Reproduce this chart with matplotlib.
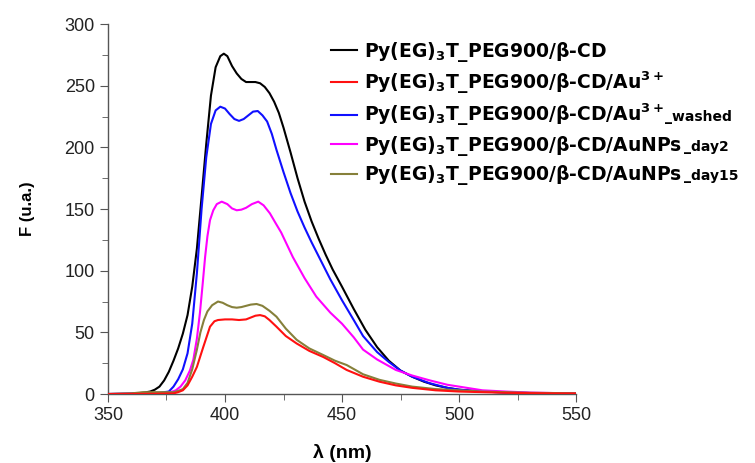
import matplotlib
matplotlib.use("Agg")
import matplotlib.pyplot as plt
from matplotlib.ticker import MultipleLocator
from matplotlib.transforms import IdentityTransform

plt.rcParams['font.family'] = ['Liberation Sans', 'DejaVu Sans']
plt.rcParams['mathtext.fontset'] = 'custom'
plt.rcParams['mathtext.bf'] = 'DejaVu Sans:bold'
plt.rcParams['mathtext.rm'] = 'DejaVu Sans:bold'
plt.rcParams['mathtext.default'] = 'bf'

# --- data ---
wl_black = [350, 360, 365, 368, 370, 372, 374, 376, 378, 380, 382, 384, 386, 388, 390, 392, 394, 396,
            398, 399.5, 401, 403, 405, 407, 409, 411, 413, 415, 417, 419, 421, 423, 425, 428, 431, 434,
            437, 440, 443, 446, 450, 455, 460, 465, 470, 475, 480, 485, 490, 495, 500, 510, 520, 530, 540, 550]
f_black = [0, 0.3, 1, 2, 3.5, 6, 11, 18, 27, 37, 49, 64, 87, 118, 160, 203, 242, 265,
           274, 276, 274, 266, 260, 255.5, 253, 253, 253, 252, 249, 244, 237, 228, 216, 196, 175, 156,
           140, 126, 113, 101, 87, 69, 52, 38, 27, 19, 14, 10, 7, 5, 3.5, 2, 1.2, 0.8, 0.5, 0.3]

wl_red = [350, 370, 378, 380, 382, 384, 386, 388, 390.7, 393.6, 395.5, 397, 400, 403, 406, 409, 411, 413, 415,
          417, 419, 422, 426, 430.6, 436, 442, 447, 452, 459, 466, 473, 480, 490, 500, 510, 520, 530, 540, 550]
f_red = [0, 0.2, 0.5, 1.5, 3, 7, 14, 22, 38, 54.6, 59, 60, 60.5, 60.5, 60, 60.5, 62, 63.5, 64,
         63, 60, 54.6, 47, 41, 35, 30, 25, 19.5, 14, 10, 7, 5, 3, 2, 1.5, 1, 0.7, 0.5, 0.4]

wl_blue = [350, 365, 372, 376, 378, 380, 382, 384, 386, 388, 390, 392, 394, 396, 398, 400, 402, 404, 406,
           408, 410, 412, 414, 416, 418, 420, 422, 425, 428, 431, 434, 437, 441, 445, 450, 455, 459,
           465, 470, 475, 480, 487, 495, 500, 510, 520, 530, 540, 550]
f_blue = [0, 0.3, 1, 2, 6, 12, 20, 33, 57, 98, 150, 192, 219, 230, 233, 231.5, 227, 223, 221.5,
          223, 226, 229, 229.5, 226, 221, 211, 198, 180, 163, 148, 135, 123, 108, 93, 76, 60, 47,
          34, 26, 19, 14, 9, 5, 3.5, 2, 1.2, 0.8, 0.5, 0.3]

wl_mag = [350, 370, 376, 379, 381, 383, 385, 386.5, 388, 389.3, 390.5, 391.5, 392.5, 393.6, 395, 396.5, 398.6,
          401, 403, 405, 407, 409, 411.5, 414.2, 416.5, 419.2, 421.5, 424, 426.5, 429, 434, 439, 445, 450,
          455, 459, 465, 473, 480, 487.6, 495, 500, 505, 510, 520, 530, 540, 550]
f_mag = [0, 0.3, 1, 3, 6, 11, 19, 28, 45, 66, 90, 111, 128, 141, 149, 154, 156,
         154, 150.5, 149, 149.5, 151, 154, 156, 153, 146.5, 139, 131, 121, 111, 94, 79, 66, 57,
         46, 36, 28, 19.5, 15, 11, 7.5, 6, 4.5, 3, 2, 1.2, 0.8, 0.5]

wl_d15 = [350, 360, 365, 370, 375, 378, 380, 382, 384, 386, 388, 389.5, 391, 392.5, 394.5, 397, 399,
          401, 403, 405, 407, 409, 411, 413.5, 416, 419, 422, 426, 430.6, 436, 442, 447, 452, 459, 466,
          473, 480, 490, 500, 510, 520, 530, 540, 550]
f_d15 = [0, 0.5, 1.5, 1.5, 1.5, 1.5, 2.5, 4, 9, 20, 36, 50, 60, 67, 72, 75, 74,
         72, 70.5, 70, 70.5, 71.5, 72.5, 73, 71.5, 67.5, 62.7, 53, 44, 37, 31.6, 27, 23.5, 16, 11.5,
         8.5, 6, 4, 3, 2, 1.5, 1, 0.8, 0.6]

labels = [
    r'Py(EG)$_{3}$T_PEG900/β-CD',
    r'Py(EG)$_{3}$T_PEG900/β-CD/Au$^{3+}$',
    r'Py(EG)$_{3}$T_PEG900/β-CD/Au$^{3+}$',
    r'Py(EG)$_{3}$T_PEG900/β-CD/AuNPs',
    r'Py(EG)$_{3}$T_PEG900/β-CD/AuNPs',
]
# smaller trailing parts of the legend labels
suffixes = ['', '', '_washed', '_day2', '_day15']

fig = plt.figure(figsize=(7.55, 4.63), dpi=100)
ax = fig.add_axes([0.143, 0.149, 0.62, 0.799])

lw = 1.5
lb, = ax.plot(wl_black, f_black, color='black', lw=lw, label=labels[0])
lr, = ax.plot(wl_red, f_red, color='#ff1010', lw=lw, label=labels[1], zorder=5)
lu, = ax.plot(wl_blue, f_blue, color='#1010ff', lw=lw, label=labels[2])
lm, = ax.plot(wl_mag, f_mag, color='#ff00ff', lw=lw, label=labels[3])
lo, = ax.plot(wl_d15, f_d15, color='#86803a', lw=lw, label=labels[4])

ax.set_xlim(350, 550)
ax.set_ylim(0, 300)
ax.xaxis.set_major_locator(MultipleLocator(50))
ax.xaxis.set_minor_locator(MultipleLocator(25))
ax.yaxis.set_major_locator(MultipleLocator(50))
ax.yaxis.set_minor_locator(MultipleLocator(25))

for s in ['top', 'right']:
    ax.spines[s].set_visible(False)
for s in ['left', 'bottom']:
    ax.spines[s].set_color('#555555')
    ax.spines[s].set_linewidth(1.0)
ax.tick_params(which='both', direction='out', color='#555555', labelcolor='#222222', labelsize=13)
ax.tick_params(which='major', length=6)
ax.tick_params(which='minor', length=4)

ax.set_xlabel('λ (nm)', fontsize=14, fontweight='bold', labelpad=14)
ax.set_ylabel('F (u.a.)', fontsize=12, fontweight='bold', labelpad=21)

leg = fig.legend(handles=[lb, lr, lu, lm, lo], loc='upper left', bbox_to_anchor=(0.428, 0.93),
                 bbox_transform=fig.transFigure, frameon=False, borderaxespad=0,
                 handlelength=1.4, handletextpad=0.4, labelspacing=0.3,
                 prop={'family': ['DejaVu Sans'], 'weight': 'bold', 'size': 13.5})

# add the small suffixes right after each legend label
fig.canvas.draw()
renderer = fig.canvas.get_renderer()
for t, suf in zip(leg.get_texts(), suffixes):
    if not suf:
        continue
    bb = t.get_window_extent(renderer)
    x0, y0 = t.get_transform().transform(t.get_position())
    fig.text(bb.x1 + 1, y0, suf, transform=IdentityTransform(), va='baseline', ha='left',
             fontsize=10, fontweight='bold', family='DejaVu Sans')

fig.savefig('out.png', dpi=100)
